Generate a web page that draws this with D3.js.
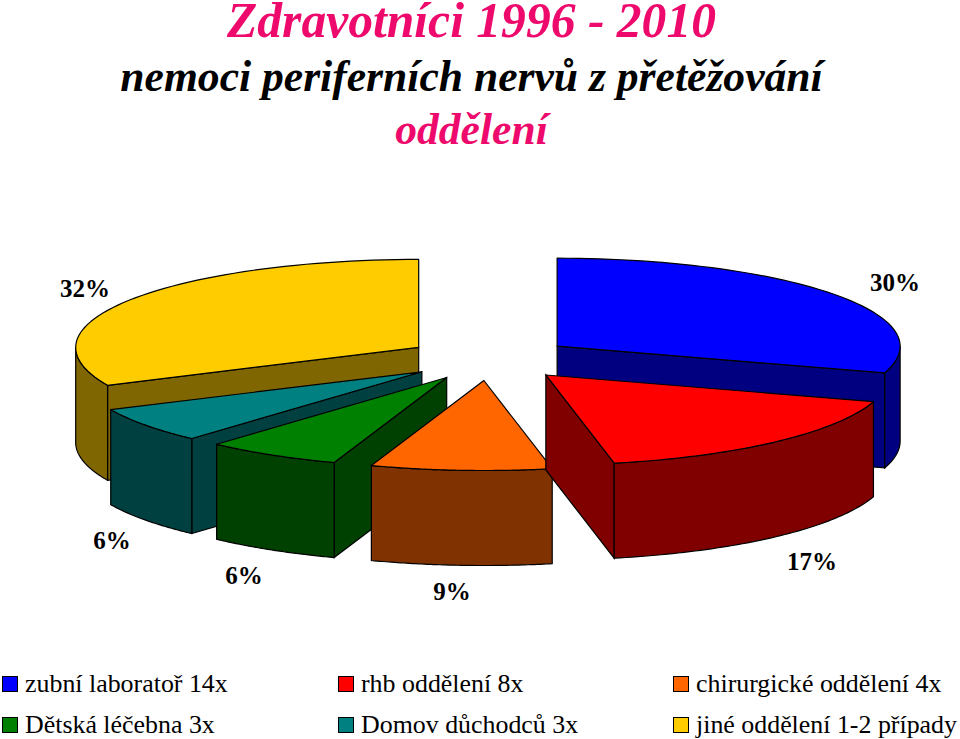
<!DOCTYPE html>
<html>
<head>
<meta charset="utf-8">
<script src="https://cdn.jsdelivr.net/npm/d3@7"></script>
<style>
  html, body { margin: 0; padding: 0; background: #fff; }
  svg { display: block; }
  text { font-family: "Liberation Serif", "Times New Roman", serif; }
</style>
</head>
<body>
<div id="chart"></div>
<script>
// data
const categories = ["zubní laboratoř 14x", "rhb oddělení 8x", "chirurgické oddělení 4x", "Dětská léčebna 3x", "Domov důchodců 3x", "jiné oddělení 1-2 případy"];
const counts = [14, 8, 4, 3, 3, 15];
const percentLabels = ["30%", "17%", "9%", "6%", "6%", "32%"];
const topColors = ["#0000ff", "#ff0000", "#ff6600", "#008000", "#008080", "#ffcc00"];
const wallColors = ["#000080", "#800000", "#803300", "#004000", "#004040", "#806600"];
const titleLines = ["Zdravotníci 1996 - 2010", "nemoci periferních nervů z přetěžování", "oddělení"];

// layout
const w = 960, h = 739;
const cx = 489.5, cy = 359;
const rx = 343, ryBack = 88, ryFront = 90, depth = 95, explode = 84;
const labelX = [895, 812, 452, 244, 112, 85];
const labelY = [291, 570, 600, 584, 549, 297];
const drawOrder = [5, 0, 4, 3, 2, 1];

const color = d3.scaleOrdinal().domain(categories).range(topColors);
const wallColor = d3.scaleOrdinal().domain(categories).range(wallColors);

const pie = d3.pie().sort(null).value((d, i) => counts[i]);
const slices = pie(categories);

const svg = d3.select("#chart").append("svg")
  .attr("width", w)
  .attr("height", h);

const line = d3.line();
const closed = pts => line(pts) + "Z";

function drawSlice(d) {
  const mid = (d.startAngle + d.endAngle) / 2;
  const ax = cx + explode * Math.sin(mid);
  const ay = cy - explode * (ryBack / rx) * Math.cos(mid);
  // the front of the pie is a bit deeper than the back
  const rim = a => [ax + rx * Math.sin(a), ay - (Math.cos(a) > 0 ? ryBack : ryFront) * Math.cos(a)];
  const down = p => [p[0], p[1] + depth];
  const arcPts = (a0, a1) => d3.range(0, 61).map(i => rim(a0 + (a1 - a0) * i / 60));

  const g = svg.append("g").attr("class", "slice");
  const fillWall = wallColor(d.data);

  // flat cut walls, only the ones facing the viewer
  [d.startAngle, d.endAngle].forEach((a, i) => {
    const normal = i == 0 ? a - Math.PI / 2 : a + Math.PI / 2;
    if (Math.cos(normal) < -0.01) {
      const p = rim(a);
      g.append("path")
        .attr("d", closed([[ax, ay], p, down(p), [ax, ay + depth]]))
        .attr("fill", fillWall)
        .attr("stroke", "#000")
        .attr("stroke-width", 1.2);
    }
  });

  // outer wall, front half of the ellipse
  const a0 = Math.max(d.startAngle, Math.PI / 2);
  const a1 = Math.min(d.endAngle, Math.PI * 1.5);
  if (a1 > a0) {
    const pts = arcPts(a0, a1);
    g.append("path")
      .attr("d", closed(pts.concat(pts.map(down).reverse())))
      .attr("fill", fillWall)
      .attr("stroke", "#000")
      .attr("stroke-width", 1.2);
  }

  // top face
  g.append("path")
    .attr("d", closed([[ax, ay]].concat(arcPts(d.startAngle, d.endAngle))))
    .attr("fill", color(d.data))
    .attr("stroke", "#000")
    .attr("stroke-width", 1.2)
    .attr("stroke-linejoin", "round");
}

drawOrder.forEach(i => drawSlice(slices[i]));

// percent labels
svg.selectAll("text.pct")
  .data(percentLabels)
  .enter()
  .append("text")
  .attr("class", "pct")
  .attr("x", (d, i) => labelX[i])
  .attr("y", (d, i) => labelY[i])
  .attr("text-anchor", "middle")
  .attr("font-size", 25)
  .attr("font-weight", "bold")
  .text(d => d);

// title
const titleSize = [49.6, 43.6, 43.6];
const titleY = [37, 91, 144];
const titleFill = ["#ee0a6c", "#000", "#ee0a6c"];
svg.selectAll("text.title")
  .data(titleLines)
  .enter()
  .append("text")
  .attr("class", "title")
  .attr("x", 471.5)
  .attr("y", (d, i) => titleY[i])
  .attr("text-anchor", "middle")
  .attr("font-size", (d, i) => titleSize[i])
  .attr("font-style", "italic")
  .attr("font-weight", "bold")
  .attr("fill", (d, i) => titleFill[i])
  .text(d => d);

// legend, filled row by row
const legendX = d3.scaleOrdinal().domain([0, 1, 2]).range([2, 338, 673]);
const legendY = d3.scaleOrdinal().domain([0, 1]).range([676, 717]);
const legend = svg.selectAll("g.legend")
  .data(categories)
  .enter()
  .append("g")
  .attr("class", "legend")
  .attr("transform", (d, i) => "translate(" + legendX(i % 3) + "," + legendY(Math.floor(i / 3)) + ")");

legend.append("rect")
  .attr("x", 0.5)
  .attr("y", 0.5)
  .attr("width", 15)
  .attr("height", 15)
  .attr("fill", d => color(d))
  .attr("stroke", "#000")
  .attr("stroke-width", 1);

legend.append("text")
  .attr("x", 23)
  .attr("y", 15.5)
  .attr("font-size", 25.9)
  .attr("fill", "#000")
  .text(d => d);
</script>
</body>
</html>
